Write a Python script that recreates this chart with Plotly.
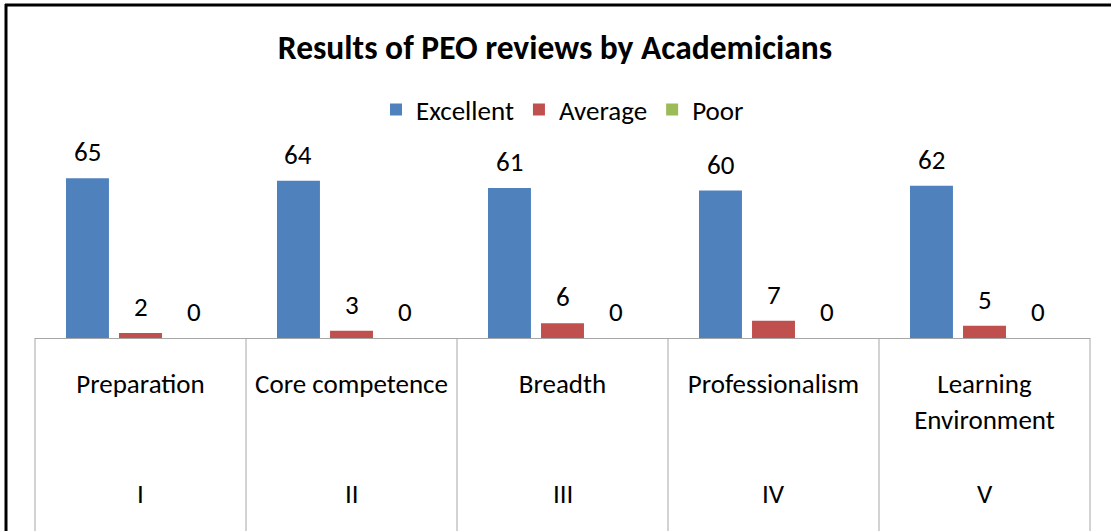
import plotly.graph_objects as go

# ---- data ----
categories = ["Preparation", "Core competence", "Breadth", "Professionalism", "Learning<br>Environment"]
peo_numbers = ["I", "II", "III", "IV", "V"]
excellent = [65, 64, 61, 60, 62]
average = [2, 3, 6, 7, 5]
poor = [0, 0, 0, 0, 0]
series_names = ["Excellent", "Average", "Poor"]
series_colors = ["#4F81BD", "#C0504D", "#9BBB59"]
title_text = "Results of PEO reviews by Academicians"

# ---- layout constants (pixels) ----
W, H = 1111, 531
ML, MR, MT, MB = 35, 21, 166, 193
PLOT_W = W - ML - MR
PLOT_H = H - MT - MB
FONT = "Carlito, Calibri, Lato, sans-serif"
BARGAP, GROUPGAP = 0.246, 0.19
TXT = 27


def py(pix):
    """pixel y (from top of page) -> paper y"""
    return (H - MB - pix) / PLOT_H


def px(pix):
    return (pix - ML) / PLOT_W


fig = go.Figure()
all_series = [excellent, average, poor]
for name, vals, col in zip(series_names, all_series, series_colors):
    fig.add_trace(go.Bar(
        name=name, x=categories, y=vals,
        marker=dict(color=col, line=dict(width=0)),
        cliponaxis=False,
    ))

shapes = []
n = len(categories)
for i in range(n + 1):
    shapes.append(dict(type="line", xref="x domain", yref="paper",
                       x0=i / n, x1=i / n, y0=0, y1=py(H + 2),
                       line=dict(color="#A6A6A6", width=1)))
# outer black frame (top & left)
shapes.append(dict(type="line", xref="paper", yref="paper",
                   x0=px(5), x1=px(W + 5), y0=py(5), y1=py(5),
                   line=dict(color="#000000", width=3)))
shapes.append(dict(type="line", xref="paper", yref="paper",
                   x0=px(6), x1=px(6), y0=py(4), y1=py(H + 5),
                   line=dict(color="#000000", width=3)))

annotations = []
# value labels above each bar (grouped offsets follow the bar layout)
slot_px = PLOT_W / n * (1 - BARGAP) / len(all_series)
for j, vals in enumerate(all_series):
    shift = (j - (len(all_series) - 1) / 2) * slot_px
    for cat, v in zip(categories, vals):
        annotations.append(dict(x=cat, xref="x", y=v, yref="y", text=str(v),
                                showarrow=False, xshift=shift, yshift=8,
                                yanchor="bottom", xanchor="center",
                                font=dict(size=TXT, color="#000000", family=FONT)))
for cat, num in zip(categories, peo_numbers):
    annotations.append(dict(x=cat, xref="x", y=py(493), yref="paper",
                            text=num, showarrow=False, yanchor="middle",
                            font=dict(size=TXT, color="#000000", family=FONT)))

fig.update_layout(
    width=W, height=H,
    margin=dict(l=ML, r=MR, t=MT, b=MB),
    paper_bgcolor="white", plot_bgcolor="white",
    font=dict(family=FONT, size=TXT, color="#000000"),
    title=dict(text="<b>" + title_text + "</b>", x=px(562), xanchor="center",
               y=1 - 47 / H, yanchor="middle",
               font=dict(size=33.5, color="#000000", family=FONT)),
    barmode="group", bargap=BARGAP, bargroupgap=GROUPGAP,
    showlegend=True,
    legend=dict(orientation="h", x=0.5, xanchor="center", y=py(110), yanchor="middle",
                font=dict(size=TXT, family=FONT), itemwidth=30, tracegroupgap=0,
                bgcolor="rgba(0,0,0,0)"),
    xaxis=dict(type="category", showline=True, linecolor="#A6A6A6", linewidth=1,
               ticks="", showgrid=False, tickfont=dict(size=TXT, family=FONT, color="#000000"),
               ticklabelstandoff=22),
    yaxis=dict(range=[0, 70], visible=False, showgrid=False, zeroline=False),
    shapes=shapes, annotations=annotations,
)

fig.write_html("out.html", config={"displayModeBar": False},
               post_script="document.body.style.margin='0';document.body.style.padding='0';")
